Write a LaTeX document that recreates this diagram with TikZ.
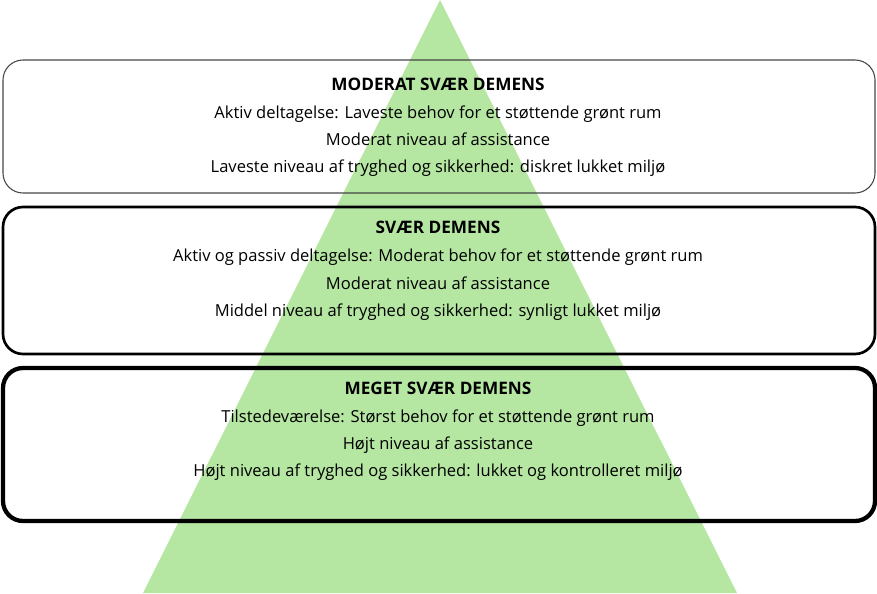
\documentclass[tikz,border=0pt]{standalone}
\usepackage{fontspec}
\setmainfont{Open Sans}
\definecolor{pyramidgreen}{RGB}{181,230,162}
\definecolor{thinframe}{RGB}{70,70,70}
\tikzset{
  levelbox/.style={rounded corners=15pt},
  leveltext/.style={anchor=base,inner sep=0.75pt,font=\fontsize{12.4}{14}\selectfont},
  leveltitle/.style={leveltext,font=\fontsize{12.9}{15}\selectfont\bfseries}
}
\begin{document}
\begin{tikzpicture}[x=0.75pt,y=0.75pt,yscale=-1,xscale=1]
\useasboundingbox (0,0) rectangle (877,593);

%Shape: Triangle
\fill [pyramidgreen] (440,0) -- (737,593) -- (143,593) -- cycle ;

%Rounded Rect: moderat
\draw [levelbox,color=thinframe,line width=0.8] (3,60) rectangle (875,193) ;
%Rounded Rect: svaer
\draw [levelbox,line width=2] (3,207) rectangle (875,354) ;
%Rounded Rect: meget svaer
\draw [levelbox,line width=3.2] (3,368) rectangle (875,521) ;

% Text Node
\node (modTitle) at (438,90) [leveltitle] {MODERAT SVÆR DEMENS};
\node (modA) at (438,118) [leveltext] {Aktiv deltagelse: Laveste behov for et støttende grønt rum};
\node (modB) at (438,145) [leveltext] {Moderat niveau af assistance};
\node (modC) at (438,172) [leveltext] {Laveste niveau af tryghed og sikkerhed: diskret lukket miljø};
% Text Node
\node (svTitle) at (438,233) [leveltitle] {SVÆR DEMENS};
\node (svA) at (438,261) [leveltext] {Aktiv og passiv deltagelse: Moderat behov for et støttende grønt rum};
\node (svB) at (438,289) [leveltext] {Moderat niveau af assistance};
\node (svC) at (438,316) [leveltext] {Middel niveau af tryghed og sikkerhed: synligt lukket miljø};
% Text Node
\node (msTitle) at (438,394) [leveltitle] {MEGET SVÆR DEMENS};
\node (msA) at (438,422) [leveltext] {Tilstedeværelse: Størst behov for et støttende grønt rum};
\node (msB) at (438,449) [leveltext] {Højt niveau af assistance};
\node (msC) at (438,476) [leveltext] {Højt niveau af tryghed og sikkerhed: lukket og kontrolleret miljø};

\end{tikzpicture}
\end{document}
